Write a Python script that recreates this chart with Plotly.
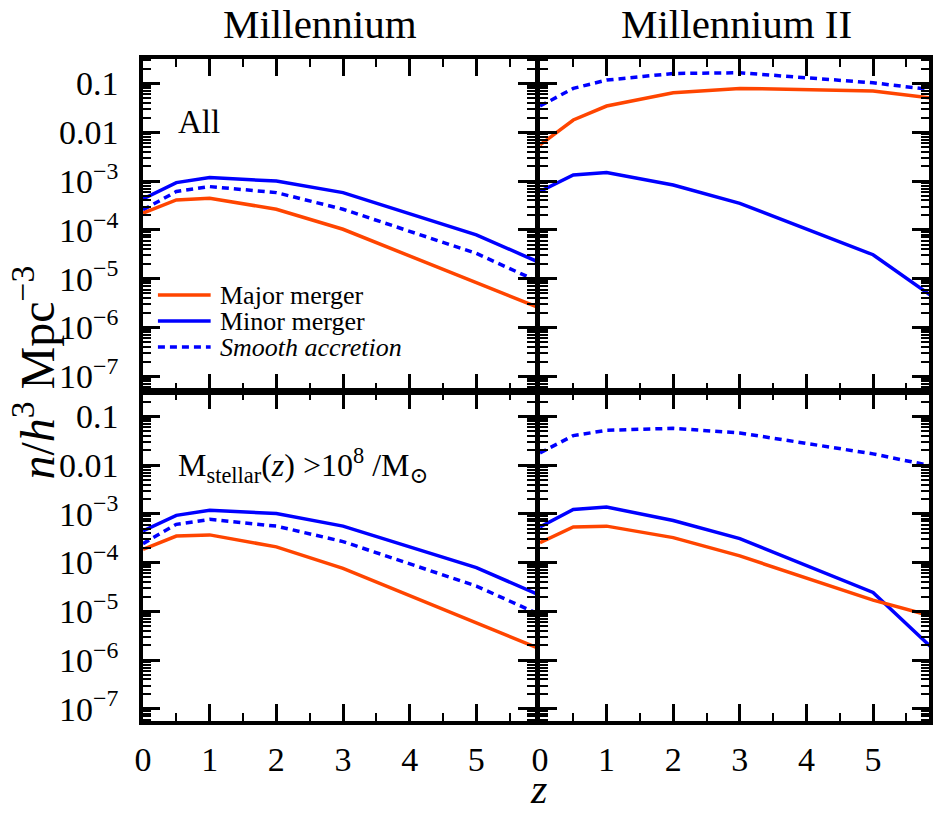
import plotly.graph_objects as go

# ---------------- data ----------------
z = [0, 0.5, 1, 2, 3, 5, 6]

mill_all_major = [2.2e-4, 4.1e-4, 4.45e-4, 2.65e-4, 1.03e-4, 8.4e-6, 2.35e-6]
mill_all_minor = [4.3e-4, 9.3e-4, 1.18e-3, 1.0e-3, 5.8e-4, 7.9e-5, 2.0e-5]
mill_all_smooth = [2.57e-4, 6.1e-4, 7.7e-4, 5.8e-4, 2.65e-4, 3.3e-5, 7.9e-6]

mill2_all_major = [5.5e-3, 0.0178, 0.0344, 0.0644, 0.079, 0.070, 0.048]
mill2_all_minor = [6.1e-4, 1.33e-3, 1.49e-3, 8.3e-4, 3.5e-4, 3.1e-5, 3.4e-6]
mill2_all_smooth = [0.0344, 0.079, 0.117, 0.16, 0.165, 0.103, 0.071]

mill_ms_major = [1.87e-4, 3.5e-4, 3.7e-4, 2.1e-4, 7.6e-5, 5.75e-6, 1.6e-6]
mill_ms_minor = [4.45e-4, 9.3e-4, 1.18e-3, 1.02e-3, 5.6e-4, 7.9e-5, 2.0e-5]
mill_ms_smooth = [2.45e-4, 6.1e-4, 7.7e-4, 5.6e-4, 2.7e-4, 3.3e-5, 8.0e-6]

mill2_ms_major = [2.57e-4, 5.4e-4, 5.6e-4, 3.25e-4, 1.37e-4, 1.7e-5, 7.2e-6]
mill2_ms_minor = [5.4e-4, 1.23e-3, 1.38e-3, 7.3e-4, 3.1e-4, 2.44e-5, 1.26e-6]
mill2_ms_smooth = [0.0178, 0.0403, 0.0518, 0.0569, 0.0457, 0.017, 8.9e-3]

series_names = ["Major merger", "Minor merger", "<i>Smooth accretion</i>"]
series_colors = ["#FF4500", "#0000FF", "#0000FF"]
series_dash = ["solid", "solid", "7px,5px"]

column_titles = ["Millennium", "Millennium II"]
panel_labels = ["All", "M<sub>stellar</sub>(<i>z</i>) >10<sup>8</sup> /M<sub>⊙</sub>"]

ytick_vals = [1e-1, 1e-2, 1e-3, 1e-4, 1e-5, 1e-6, 1e-7]
ytick_text = ["0.1", "0.01", "10<sup>−3</sup>", "10<sup>−4</sup>",
              "10<sup>−5</sup>", "10<sup>−6</sup>", "10<sup>−7</sup>"]
xtick_vals = [0, 1, 2, 3, 4, 5]
xtick_text = ["0", "1", "2", "3", "4", "5"]

panels = [  # (row, col, [major, minor, smooth])
    (1, 1, [mill_all_major, mill_all_minor, mill_all_smooth]),
    (1, 2, [mill2_all_major, mill2_all_minor, mill2_all_smooth]),
    (2, 1, [mill_ms_major, mill_ms_minor, mill_ms_smooth]),
    (2, 2, [mill2_ms_major, mill2_ms_minor, mill2_ms_smooth]),
]

# ---------------- layout geometry ----------------
W, H = 933, 816
ML, MR, MT, MB = 143, 0, 59, 95
PW, PH = W - ML - MR, H - MT - MB

def px(xpix):
    return (xpix - ML) / PW

def py(ypix):
    return (H - MB - ypix) / PH

x_domains = {1: [0, px(537)], 2: [px(542), 1]}
y_domains = {1: [py(391), 1], 2: [0, py(392)]}
x_ranges = {1: [0, 5.88], 2: [0, 5.84]}
y_ranges = {1: [-7.3, -0.5], 2: [-7.25, -0.5]}

FONT = "Liberation Serif, Times New Roman, Times, DejaVu Serif, serif"
minor_y = [m * 10.0 ** e for e in range(-8, 0) for m in range(2, 10)]

fig = go.Figure()

for idx, (r, c, data) in enumerate(panels):
    n = idx + 1
    xa = "x" if n == 1 else f"x{n}"
    ya = "y" if n == 1 else f"y{n}"
    for k in [2, 1, 0]:
        fig.add_trace(go.Scatter(
            x=z, y=data[k], mode="lines", xaxis=xa, yaxis=ya,
            line=dict(color=series_colors[k], width=3.5, dash=series_dash[k]),
            showlegend=False, name=series_names[k]))
    common = dict(showline=True, linecolor="black", linewidth=3.5, mirror="allticks",
                  ticks="inside", tickcolor="black", showgrid=False, zeroline=False,
                  tickfont=dict(family=FONT, size=34, color="black"))
    fig.layout[("xaxis" if n == 1 else f"xaxis{n}")] = dict(
        domain=x_domains[c], range=x_ranges[c], anchor=ya,
        tickvals=xtick_vals, ticktext=xtick_text, ticklen=17, tickwidth=2.5,
        showticklabels=(r == 2), ticklabelstandoff=5,
        minor=dict(dtick=0.5, ticks="inside", ticklen=8, tickwidth=2, tickcolor="black", showgrid=False),
        **common)
    fig.layout[("yaxis" if n == 1 else f"yaxis{n}")] = dict(
        domain=y_domains[r], range=y_ranges[r], type="log", anchor=xa,
        tickvals=ytick_vals, ticktext=ytick_text, ticklen=17, tickwidth=2.5,
        showticklabels=(c == 1), ticklabelstandoff=14,
        minor=dict(tickvals=minor_y, ticks="inside", ticklen=8, tickwidth=1.5, tickcolor="black", showgrid=False),
        **common)

annotations = []
# column titles
for title, xpix in zip(column_titles, [321, 740]):
    annotations.append(dict(text=title, x=px(xpix), y=py(24), xref="paper", yref="paper",
                            showarrow=False, xanchor="center", yanchor="middle",
                            font=dict(family=FONT, size=41, color="black")))
# panel labels
for lab, ypix in zip(panel_labels, [122, 466]):
    annotations.append(dict(text=lab, x=px(176), y=py(ypix), xref="paper", yref="paper",
                            showarrow=False, xanchor="left", yanchor="middle",
                            font=dict(family=FONT, size=33 if lab == "All" else 32, color="black")))
# axis titles
annotations.append(dict(text="<i>n</i>/<i>h</i><sup>3</sup> Mpc<sup>−3</sup>", x=px(33), y=py(373),
                        xref="paper", yref="paper", showarrow=False, textangle=-90,
                        xanchor="center", yanchor="middle",
                        font=dict(family=FONT, size=48, color="black")))
annotations.append(dict(text="<i>z</i>", x=px(541), y=py(789), xref="paper", yref="paper",
                        showarrow=False, xanchor="center", yanchor="middle",
                        font=dict(family=FONT, size=42, color="black")))

# manual legend (key lines + labels) in the top-left panel
shapes = []
for i, (nm, col, dsh) in enumerate(zip(series_names, series_colors, series_dash)):
    ypix = 295 + 26 * i
    shapes.append(dict(type="line", xref="paper", yref="paper",
                       x0=px(158), x1=px(211), y0=py(ypix), y1=py(ypix),
                       line=dict(color=col, width=3.5, dash=dsh)))
    annotations.append(dict(text=nm, x=px(218), y=py(ypix), xref="paper", yref="paper",
                            showarrow=False, xanchor="left", yanchor="middle",
                            font=dict(family=FONT, size=26, color="black")))

fig.update_layout(width=W, height=H, margin=dict(l=ML, r=MR, t=MT, b=MB),
                  paper_bgcolor="white", plot_bgcolor="white",
                  font=dict(family=FONT, color="black"),
                  annotations=annotations, shapes=shapes, showlegend=False)

fig.write_html("out.html")
